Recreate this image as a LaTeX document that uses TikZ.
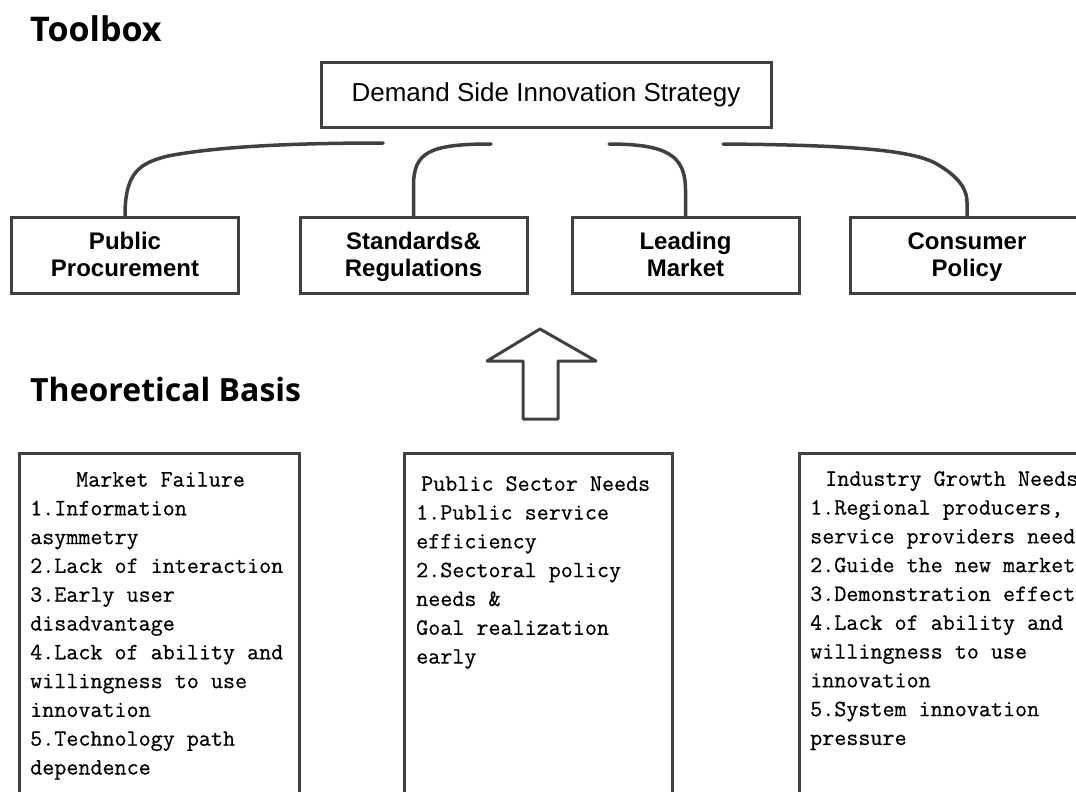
\documentclass[tikz,border=0pt]{standalone}
\usepackage{fontspec}
\setmainfont{Liberation Sans}
\newfontfamily\headfont{Open Sans}
\newfontfamily\bodyfont{Latin Modern Mono}[FakeBold=0.5]
\newcommand\lblstrut{\rule[-5.1pt]{0pt}{27pt}}
\definecolor{ln}{HTML}{404040}
\begin{document}
\begin{tikzpicture}[x=1pt,y=-1pt,
  box/.style={draw=ln,line width=3pt,rectangle,inner sep=0pt},
  tbox/.style={box,minimum width=227pt,minimum height=76pt,
    font=\fontsize{24}{27}\selectfont\bfseries,align=center},
  panel/.style={box,anchor=north west,minimum height=380pt},
  link/.style={draw=ln,line width=3.5pt,line cap=round},
  head/.style={anchor=base west,inner sep=0pt,
    font=\headfont\bfseries\fontsize{32}{36}\selectfont},
  body/.style={anchor=north west,inner sep=0pt,align=left,
    font=\bodyfont\fontsize{23.4}{28.8}\selectfont}]
\useasboundingbox (0,0) rectangle (1076,792);
\clip (0,0) rectangle (1076,792);

% headings
\node[head,font=\headfont\bfseries\fontsize{34}{38}\selectfont] (toolbox) at (30,42) {Toolbox};
\node[head] (theory) at (30,401) {Theoretical Basis};

% top level
\node[box,minimum width=450pt,minimum height=64pt,
  font=\fontsize{26}{29}\selectfont] (dsis) at (546,95) {Demand Side Innovation Strategy};

% tools
\node[tbox] (pp) at (125,255) {\lblstrut Public\\\lblstrut Procurement};
\node[tbox] (sr) at (413.5,255) {\lblstrut Standards\&\\\lblstrut Regulations};
\node[tbox] (lm) at (685.5,255) {\lblstrut Leading\\\lblstrut Market};
\node[tbox,minimum width=234pt] (cp) at (967,255) {\lblstrut Consumer\\\lblstrut Policy};

% brace-like connectors
\coordinate (e1) at (383,143);
\coordinate (e2) at (491,144);
\coordinate (e3) at (609,144);
\coordinate (e4) at (723,144);
\draw[link] (pp.north) .. controls (125,172) and (140,163) .. (168,156)
  .. controls (220,146) and (300,143) .. (e1);
\draw[link] (sr.north) -- ++(0,-30) .. controls (413.5,152) and (430,144) .. (e2);
\draw[link] (e3) .. controls (668,144) and (685.5,156) .. (685.5,190) -- (lm.north);
\draw[link] (e4) .. controls (850,145) and (910,150) .. (935,163)
  .. controls (962,178) and (967,192) .. (967,202) -- (cp.north);

% hollow up arrow
\draw[draw=ln,line width=3pt,line join=round]
  (540,329) -- (596,361) -- (558,361) -- (558,419) -- (523,419)
  -- (523,361) -- (487,361) -- cycle;

% theory panels
\node[panel,minimum width=280pt] (mfbox) at (18,452) {};
\node[panel,minimum width=268pt] (psbox) at (403,452) {};
\node[panel,minimum width=300pt] (igbox) at (798,452) {};

\node[body] (mf) at (30,472) {\hspace*{46pt}Market Failure\\1.Information\\asymmetry\\2.Lack of interaction\\3.Early user\\disadvantage\\4.Lack of ability and\\willingness to use\\innovation\\5.Technology path\\dependence};
\node[body] (ps) at (416,476) {\hspace*{5pt}Public Sector Needs\\1.Public service\\efficiency\\2.Sectoral policy\\needs \&\\Goal realization\\early};
\node[body] (ig) at (810,471) {\hspace*{15pt}Industry Growth Needs\\1.Regional producers,\\service providers need\\2.Guide the new market\\3.Demonstration effect\\4.Lack of ability and\\willingness to use\\innovation\\5.System innovation\\pressure};
\end{tikzpicture}
\end{document}
